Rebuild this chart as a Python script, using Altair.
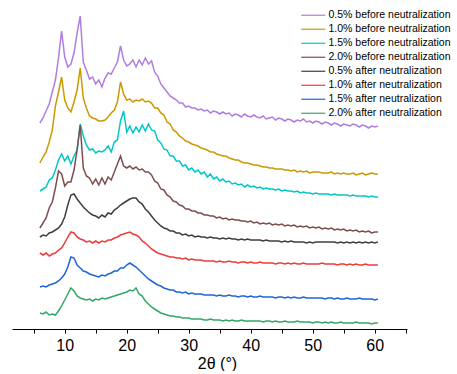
import altair as alt
import pandas as pd

# 2-theta sampling grid (degrees)
two_theta = [round(6 + 0.5 * i, 1) for i in range(110)]

series_names = [
    "0.5% before neutralization",
    "1.0% before neutralization",
    "1.5% before neutralization",
    "2.0% before neutralization",
    "0.5% after neutralization",
    "1.0% after neutralization",
    "1.5% after neutralization",
    "2.0% after neutralization",
]
series_colors = ["#B07EE0", "#CC9900", "#00C8C8", "#7E4E4E",
                 "#3F3F3F", "#EE3B3B", "#1E66DD", "#33A866"]

# stacked (offset) intensities, arbitrary units
before_05 = [206, 211, 218, 225, 237, 249, 271, 298, 272, 262,
             265, 276, 296, 313, 267, 259, 250, 252, 245, 249,
             242, 251, 256, 255, 261, 267, 283, 269, 263, 265,
             269, 262, 269, 264, 271, 265, 268, 257, 253, 245,
             241, 237, 233, 231, 229, 226, 226, 222, 223, 221,
             221, 219, 220, 218, 219, 216, 218, 217, 215, 217,
             215, 216, 213, 215, 214, 212, 215, 213, 212, 214,
             212, 211, 213, 210, 211, 212, 209, 211, 210, 208,
             210, 209, 207, 209, 208, 210, 207, 208, 206, 208,
             207, 205, 207, 206, 204, 206, 205, 203, 205, 204,
             203, 205, 204, 202, 204, 203, 201, 203, 202, 203]
before_10 = [166, 172, 177, 187, 199, 223, 237, 252, 229, 221,
             217, 227, 239, 261, 231, 221, 213, 211, 210, 208,
             208, 209, 212, 216, 219, 227, 247, 235, 229, 230,
             227, 229, 228, 230, 227, 228, 226, 221, 221, 216,
             214, 207, 205, 199, 197, 193, 191, 188, 187, 185,
             184, 183, 181, 180, 179, 177, 177, 175, 174, 173,
             173, 171, 170, 169, 169, 167, 166, 166, 165, 164,
             164, 163, 162, 162, 161, 161, 160, 160, 160, 159,
             159, 158, 159, 157, 158, 157, 158, 156, 157, 157,
             157, 156, 156, 156, 157, 155, 156, 155, 156, 155,
             155, 156, 154, 155, 156, 154, 155, 156, 155, 155]
before_15 = [138, 140, 142, 149, 151, 159, 169, 175, 168, 173,
             165, 173, 179, 205, 193, 184, 179, 180, 176, 178,
             177, 179, 183, 177, 187, 189, 208, 218, 197, 203,
             196, 202, 197, 204, 198, 205, 199, 198, 189, 186,
             180, 179, 173, 173, 168, 168, 163, 164, 159, 161,
             157, 159, 155, 157, 152, 155, 150, 152, 148, 150,
             147, 148, 145, 146, 144, 145, 142, 144, 142, 143,
             141, 142, 140, 141, 140, 140, 139, 140, 138, 139,
             138, 138, 137, 138, 136, 137, 136, 136, 135, 136,
             135, 135, 135, 135, 134, 135, 134, 134, 134, 134,
             133, 134, 133, 133, 133, 133, 132, 133, 132, 132]
before_20 = [101, 106, 111, 121, 127, 141, 158, 155, 143, 147,
             147, 159, 179, 204, 161, 153, 151, 145, 150, 144,
             151, 145, 152, 149, 157, 165, 173, 163, 161, 163,
             160, 162, 159, 160, 157, 157, 154, 148, 146, 140,
             139, 134, 132, 128, 127, 124, 123, 120, 120, 118,
             118, 116, 116, 114, 114, 113, 113, 111, 112, 110,
             111, 109, 110, 109, 109, 108, 108, 107, 108, 106,
             107, 105, 106, 105, 106, 104, 105, 104, 105, 103,
             104, 103, 104, 102, 103, 102, 103, 101, 102, 101,
             102, 100, 101, 100, 101, 99, 100, 99, 100, 98,
             99, 98, 99, 97, 98, 97, 98, 96, 97, 97]
after_05 = [92, 94, 93, 96, 97, 99, 101, 105, 112, 124,
            134, 135, 130, 126, 122, 119, 116, 114, 113, 111,
            114, 112, 116, 115, 119, 121, 124, 126, 128, 130,
            131, 131, 127, 125, 120, 117, 113, 109, 106, 103,
            101, 100, 98, 98, 96, 96, 94, 95, 93, 94,
            92, 93, 92, 92, 91, 92, 91, 91, 90, 91,
            90, 91, 90, 90, 89, 90, 89, 90, 89, 89,
            89, 89, 88, 89, 88, 88, 88, 88, 87, 88,
            87, 88, 87, 87, 87, 87, 86, 87, 86, 87,
            87, 87, 87, 87, 87, 87, 86, 87, 86, 87,
            86, 87, 86, 87, 86, 87, 86, 87, 86, 87]
after_10 = [76, 74, 76, 73, 75, 76, 79, 81, 86, 92,
            97, 96, 92, 90, 89, 87, 88, 86, 88, 86,
            88, 87, 89, 89, 91, 92, 94, 95, 96, 97,
            95, 94, 92, 88, 86, 83, 80, 78, 76, 75,
            74, 73, 72, 72, 71, 71, 70, 71, 69, 70,
            69, 69, 69, 68, 68, 68, 68, 67, 68, 67,
            67, 68, 67, 67, 66, 67, 67, 66, 67, 66,
            66, 67, 66, 66, 66, 66, 65, 66, 66, 65,
            66, 65, 66, 65, 65, 66, 65, 65, 65, 65,
            65, 66, 65, 65, 65, 65, 64, 65, 65, 64,
            65, 64, 65, 64, 64, 65, 64, 64, 64, 64]
after_15 = [42, 43, 42, 44, 45, 46, 48, 51, 55, 62,
            72, 71, 64, 61, 58, 57, 55, 54, 53, 52,
            54, 53, 55, 56, 58, 58, 61, 61, 64, 66,
            64, 62, 59, 56, 53, 50, 48, 46, 44, 43,
            41, 40, 39, 39, 37, 37, 36, 37, 35, 36,
            35, 35, 35, 34, 34, 34, 34, 33, 34, 33,
            33, 34, 33, 33, 32, 33, 33, 32, 33, 32,
            32, 33, 32, 32, 32, 32, 31, 32, 32, 31,
            32, 31, 32, 31, 31, 32, 31, 31, 31, 31,
            31, 31, 30, 31, 31, 30, 31, 30, 30, 31,
            30, 30, 30, 31, 30, 30, 30, 30, 29, 30]
after_20 = [16, 15, 17, 14, 15, 14, 18, 23, 29, 35,
            41, 38, 33, 31, 30, 29, 30, 28, 30, 29,
            31, 30, 31, 32, 33, 34, 35, 36, 37, 39,
            38, 41, 35, 33, 28, 25, 22, 20, 18, 16,
            15, 14, 13, 13, 12, 12, 11, 11, 11, 10,
            10, 10, 10, 9, 9, 10, 9, 9, 9, 8,
            9, 8, 9, 8, 8, 9, 8, 8, 8, 8,
            8, 8, 7, 8, 8, 7, 8, 7, 7, 8,
            7, 7, 7, 8, 7, 7, 7, 7, 6, 7,
            7, 6, 7, 6, 7, 6, 6, 7, 6, 6,
            6, 6, 7, 6, 6, 6, 6, 5, 6, 6]

series_values = [before_05, before_10, before_15, before_20,
                 after_05, after_10, after_15, after_20]

x_tick_values = [5, 10, 15, 20, 25, 30, 35, 40, 45, 50, 55, 60, 65]

rows = []
for name, vals in zip(series_names, series_values):
    for x, y in zip(two_theta, vals):
        rows.append({"two_theta": x, "intensity": y, "sample": name})
df = pd.DataFrame(rows)

FONT = "Liberation Sans"

chart = alt.Chart(df).mark_line(strokeWidth=1.5).encode(
    x=alt.X(
        "two_theta:Q",
        scale=alt.Scale(domain=[1.5, 65.2], nice=False, zero=False),
        axis=alt.Axis(
            title="2θ (°)",
            values=x_tick_values,
            labelExpr="datum.value % 10 == 0 ? datum.label : ''",
            grid=False,
            tickSize=4,
            tickColor="black",
            domainColor="black",
            labelColor="black",
            titleColor="black",
            labelFont=FONT,
            titleFont=FONT,
            labelFontSize=16,
            titleFontSize=16,
            titleFontWeight="normal",
            labelPadding=4,
            titlePadding=2,
            titleX=205,
        ),
    ),
    y=alt.Y("intensity:Q", scale=alt.Scale(domain=[0, 329], nice=False), axis=None),
    color=alt.Color(
        "sample:N",
        scale=alt.Scale(domain=series_names, range=series_colors),
        legend=alt.Legend(
            title=None,
            orient="none",
            legendX=296,
            legendY=10,
            symbolType="M-4,0H4",
            symbolSize=36,
            symbolStrokeWidth=1.2,
            labelOffset=10,
            labelFont=FONT,
            labelFontSize=10.5,
            labelColor="black",
            labelLimit=300,
            rowPadding=3,
        ),
    ),
).properties(
    width=395,
    height=329,
    padding={"left": 12, "top": 0, "right": 0, "bottom": 0},
).configure_view(stroke=None)

chart.save("out.html", embed_options={"renderer": "svg", "actions": False})
